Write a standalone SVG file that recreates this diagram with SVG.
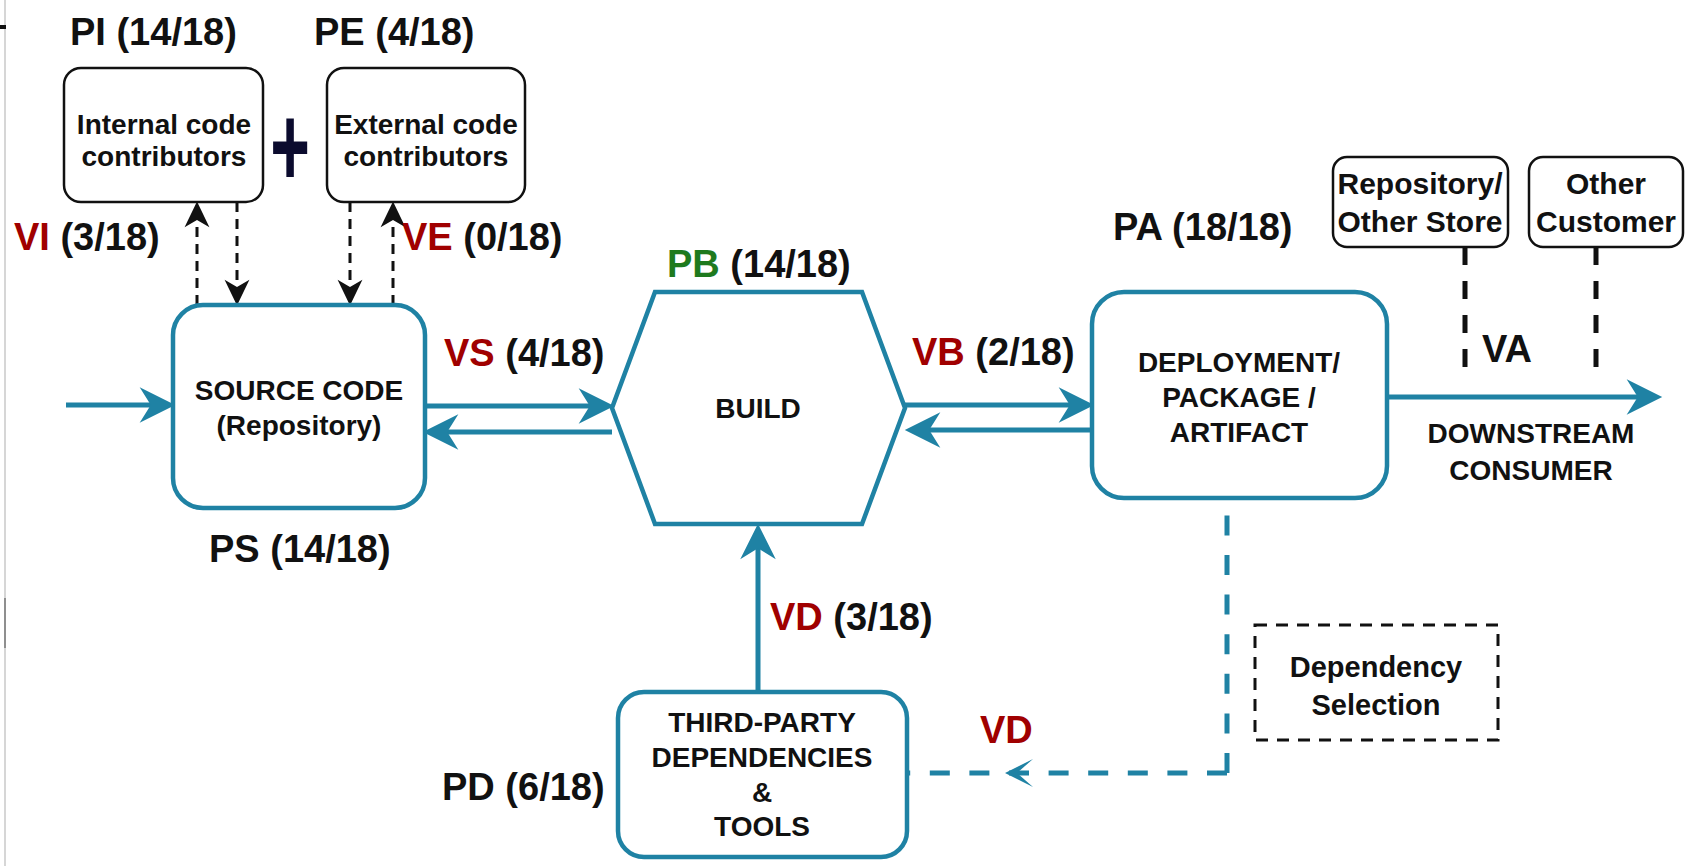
<svg xmlns="http://www.w3.org/2000/svg" width="1690" height="866" viewBox="0 0 1690 866">
  <style>
    text { font-family: "Liberation Sans", Arial, Helvetica, sans-serif; font-weight: bold; fill: #111; }
    .lbl { font-size: 38px; }
    .red { fill: #a00000; }
    .green { fill: #1e7a1e; }
    .bt { font-size: 28px; text-anchor: middle; }
    .st { font-size: 30px; text-anchor: middle; }
    .ds { font-size: 29px; text-anchor: middle; }
    .shape { fill: #fff; stroke: #1f82a4; stroke-width: 4.5; }
    .note { fill: #fff; stroke: #111; stroke-width: 2.5; }
    .flow { fill: none; stroke: #1f82a4; stroke-width: 5; }
    .flow-dash { fill: none; stroke: #1f82a4; stroke-width: 5; stroke-dasharray: 20 19.6; }
    .contrib { fill: none; stroke: #111; stroke-width: 3; stroke-dasharray: 10 7; }
    .consumer { fill: none; stroke: #111; stroke-width: 5; stroke-dasharray: 18 16; }
  </style>
  <defs>
    <marker id="ah-blue" markerUnits="userSpaceOnUse" markerWidth="40" markerHeight="40" viewBox="-14 -18 36 36" refX="0" refY="0" orient="auto">
      <path d="M20,0 L-12,-16 L-2,0 L-12,16 Z" fill="#1f82a4"/>
    </marker>
    <marker id="ah-black" markerUnits="userSpaceOnUse" markerWidth="30" markerHeight="30" viewBox="-11 -14 29 28" refX="0" refY="0" orient="auto">
      <path d="M16,0 L-9,-12 L-2,0 L-9,12 Z" fill="#111"/>
    </marker>
  </defs>

  <!-- page edge -->
  <g id="page-edge">
    <line x1="5" y1="0" x2="5" y2="866" stroke="#c8c8c8" stroke-width="1.5"/>
    <rect x="0" y="25" width="6" height="4" fill="#111"/>
    <line x1="5" y1="598" x2="5" y2="648" stroke="#777" stroke-width="1.5"/>
  </g>

  <!-- connectors -->
  <g id="connectors">
    <!-- contributors <-> source code -->
    <path class="contrib" d="M197,305 V218" marker-end="url(#ah-black)"/>
    <path class="contrib" d="M237,202 V289" marker-end="url(#ah-black)"/>
    <path class="contrib" d="M350,202 V289" marker-end="url(#ah-black)"/>
    <path class="contrib" d="M393,305 V218" marker-end="url(#ah-black)"/>
    <!-- main pipeline -->
    <path class="flow" d="M66,405 H153" marker-end="url(#ah-blue)"/>
    <path class="flow" d="M425,406 H592" marker-end="url(#ah-blue)"/>
    <path class="flow" d="M612,432 H445" marker-end="url(#ah-blue)"/>
    <path class="flow" d="M905,405 H1072" marker-end="url(#ah-blue)"/>
    <path class="flow" d="M1092,430 H927" marker-end="url(#ah-blue)"/>
    <path class="flow" d="M1387,397 H1640" marker-end="url(#ah-blue)"/>
    <path class="flow" d="M758,692 V546" marker-end="url(#ah-blue)"/>
    <!-- dependency selection loop -->
    <path class="flow-dash" d="M1227,773 V498"/>
    <path class="flow-dash" d="M1227,773 H907"/>
    <path d="M1005,773 L1033,759 L1017,773 L1033,787 Z" fill="#1f82a4"/>
    <!-- downstream consumers -->
    <path class="consumer" d="M1465,247 V383"/>
    <path class="consumer" d="M1596,247 V383"/>
  </g>

  <!-- contributors -->
  <g id="internal-contributors">
    <rect class="note" x="64" y="68" width="199" height="134" rx="17"/>
    <text class="bt" x="164" y="134">Internal code</text>
    <text class="bt" x="164" y="166">contributors</text>
  </g>
  <g id="plus">
    <text x="0" y="24" font-size="68" text-anchor="middle" style="fill:#0b0b2e" transform="translate(290,145) scale(1,1.7)">+</text>
  </g>
  <g id="external-contributors">
    <rect class="note" x="327" y="68" width="198" height="134" rx="17"/>
    <text class="bt" x="426" y="134">External code</text>
    <text class="bt" x="426" y="166">contributors</text>
  </g>

  <!-- source code -->
  <g id="source-code">
    <rect class="shape" x="173" y="305" width="252" height="203" rx="30"/>
    <text class="bt" x="299" y="400">SOURCE CODE</text>
    <text class="bt" x="299" y="435">(Repository)</text>
  </g>

  <!-- build -->
  <g id="build">
    <polygon class="shape" points="655,292 862,292 905,408 862,524 655,524 612,408"/>
    <text class="bt" x="758" y="418">BUILD</text>
  </g>

  <!-- deployment -->
  <g id="deployment">
    <rect class="shape" x="1092" y="292" width="295" height="206" rx="32"/>
    <text class="bt" x="1239" y="372">DEPLOYMENT/</text>
    <text class="bt" x="1239" y="407">PACKAGE /</text>
    <text class="bt" x="1239" y="442">ARTIFACT</text>
  </g>

  <!-- third-party dependencies -->
  <g id="third-party">
    <rect class="shape" x="618" y="692" width="289" height="165" rx="26"/>
    <text class="bt" x="762" y="732">THIRD-PARTY</text>
    <text class="bt" x="762" y="767">DEPENDENCIES</text>
    <text class="bt" x="762" y="802">&amp;</text>
    <text class="bt" x="762" y="836">TOOLS</text>
  </g>

  <!-- consumers -->
  <g id="repository-store">
    <rect class="note" x="1333" y="157" width="175" height="90" rx="14"/>
    <text class="st" x="1420" y="194">Repository/</text>
    <text class="st" x="1420" y="232">Other Store</text>
  </g>
  <g id="other-customer">
    <rect class="note" x="1529" y="157" width="154" height="90" rx="14"/>
    <text class="st" x="1606" y="194">Other</text>
    <text class="st" x="1606" y="232">Customer</text>
  </g>
  <g id="downstream-consumer">
    <text class="bt" x="1531" y="443">DOWNSTREAM</text>
    <text class="bt" x="1531" y="480">CONSUMER</text>
  </g>

  <!-- dependency selection -->
  <g id="dependency-selection">
    <rect x="1255" y="625" width="243" height="115" fill="#fff" stroke="#111" stroke-width="3" stroke-dasharray="12 9"/>
    <text class="ds" x="1376" y="677">Dependency</text>
    <text class="ds" x="1376" y="715">Selection</text>
  </g>

  <!-- metric labels -->
  <g id="labels">
    <text class="lbl" x="70" y="45">PI (14/18)</text>
    <text class="lbl" x="314" y="45">PE (4/18)</text>
    <text class="lbl" x="14" y="250"><tspan class="red">VI</tspan> (3/18)</text>
    <text class="lbl" x="402" y="250"><tspan class="red">VE</tspan> (0/18)</text>
    <text class="lbl" x="444" y="366"><tspan class="red">VS</tspan> (4/18)</text>
    <text class="lbl" x="667" y="277"><tspan class="green">PB</tspan> (14/18)</text>
    <text class="lbl" x="912" y="365"><tspan class="red">VB</tspan> (2/18)</text>
    <text class="lbl" x="1113" y="240">PA (18/18)</text>
    <text class="lbl" x="209" y="562">PS (14/18)</text>
    <text class="lbl" x="770" y="630"><tspan class="red">VD</tspan> (3/18)</text>
    <text class="lbl red" x="980" y="743">VD</text>
    <text class="lbl" x="442" y="800">PD (6/18)</text>
    <text class="lbl" x="1482" y="362">VA</text>
  </g>
</svg>
